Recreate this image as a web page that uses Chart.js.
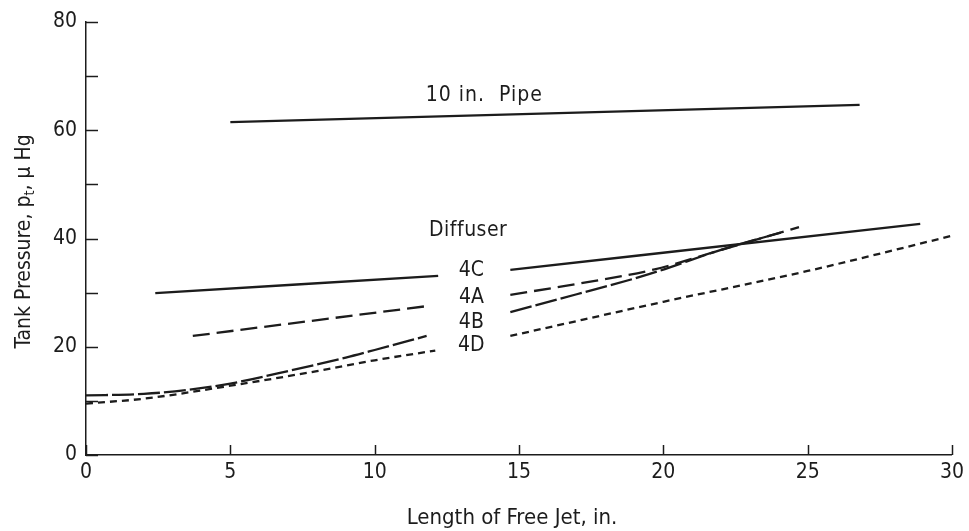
<html>
<head>
<script src="https://cdn.jsdelivr.net/npm/chart.js"></script>
<style>
  body { margin: 0; background: #fff; }
  #wrap { width: 969px; height: 531px; }
</style>
</head>
<body>
<div id="wrap"><canvas id="myChart" width="969" height="531"></canvas></div>
<script>
// values (x = length of free jet, in.; y = tank pressure)
var pipeX = [5.0, 26.8];
var pipeY = [61.5, 64.7];

var d4cX = [2.4, 12.2, 13.4, 14.7, 28.9];
var d4cY = [29.9, 33.1, null, 34.2, 42.7];

var d4aX = [3.7, 11.8, 13.2, 14.7, 17, 19.7, 22, 24.7];
var d4aY = [22.0, 27.5, null, 29.6, 31.6, 34.3, 37.9, 42.1];

var d4bX = [0, 2, 3.5, 5, 7, 9, 10, 11.8, 13.2, 14.7, 17, 19.5, 22, 24.2];
var d4bY = [11.0, 11.3, 12.0, 13.2, 15.5, 18.0, 19.4, 22.0, null, 26.4, 29.7, 33.4, 37.9, 41.3];

var d4dX = [0, 2, 5, 8, 10, 12.1, 13.4, 14.7, 20, 25, 30];
var d4dY = [9.5, 10.4, 12.8, 15.5, 17.5, 19.3, null, 22.0, 28.3, 34.0, 40.5];

var xTicks = [0, 5, 10, 15, 20, 25, 30];
var yTicks = [0, 10, 20, 30, 40, 50, 60, 70, 80];
var yLabels = [0, 20, 40, 60, 80];

var ink = '#1c1c1c';
var FONT = "'DejaVu Sans Condensed', 'Liberation Sans Narrow', sans-serif";

function pts(xs, ys) {
    return xs.map(function (x, i) { return { x: x, y: ys[i] }; });
}
function line(label, xs, ys, dash, w) {
    return {
        label: label,
        data: pts(xs, ys),
        borderColor: ink,
        borderWidth: w || 2.3,
        borderDash: dash,
        pointRadius: 0,
        fill: false,
        tension: 0.3,
        cubicInterpolationMode: 'monotone',
        spanGaps: false
    };
}

// labels placed in data units
var notes = [
    { text: '10 in.  Pipe', x: 13.8, y: 66.5, size: 21, sp: 1 },
    { text: 'Diffuser', x: 13.24, y: 41.5, size: 21, sp: 0.5 },
    { text: '4C', x: 13.35, y: 34.1, size: 21, sp: 0 },
    { text: '4A', x: 13.35, y: 29.1, size: 21, sp: 0 },
    { text: '4B', x: 13.35, y: 24.5, size: 21, sp: 0 },
    { text: '4D', x: 13.35, y: 20.2, size: 21, sp: 0 }
];

var decor = {
    id: 'decor',
    afterDraw: function (chart) {
        var c = chart.ctx, xs = chart.scales.x, ys = chart.scales.y, a = chart.chartArea;
        c.save();
        c.strokeStyle = ink;
        c.lineWidth = 1.5;
        // inward ticks
        xTicks.forEach(function (v) {
            var px = Math.round(xs.getPixelForValue(v)) + 0.5;
            c.beginPath(); c.moveTo(px, a.bottom); c.lineTo(px, a.bottom - 10); c.stroke();
        });
        yTicks.forEach(function (v) {
            var py = Math.round(ys.getPixelForValue(v)) + 0.5;
            c.beginPath(); c.moveTo(a.left, py); c.lineTo(a.left + 12, py); c.stroke();
        });
        // notes
        c.fillStyle = ink;
        c.textAlign = 'center';
        c.textBaseline = 'middle';
        notes.forEach(function (n) {
            c.font = n.size + 'px ' + FONT;
            c.letterSpacing = n.sp + 'px';
            c.fillText(n.text, xs.getPixelForValue(n.x), ys.getPixelForValue(n.y));
        });
        c.letterSpacing = '0px';
        // x title
        c.font = '22px ' + FONT;
        c.textBaseline = 'alphabetic';
        c.fillText('Length of Free Jet, in.', 512, 524);
        // y title with subscript
        c.translate(24, (a.top + a.bottom) / 2 + 3);
        c.rotate(-Math.PI / 2);
        c.textAlign = 'left';
        var p1 = 'Tank Pressure, p', p2 = 't', p3 = ', \u00b5 Hg';
        c.font = '21px ' + FONT;
        var w1 = c.measureText(p1).width, w3 = c.measureText(p3).width;
        c.font = '14px ' + FONT;
        var w2 = c.measureText(p2).width;
        var start = -(w1 + w2 + w3) / 2;
        c.font = '21px ' + FONT;
        c.fillText(p1, start, 6);
        c.font = '14px ' + FONT;
        c.fillText(p2, start + w1, 10);
        c.font = '21px ' + FONT;
        c.fillText(p3, start + w1 + w2, 6);
        c.restore();
    }
};

var ctx = document.getElementById('myChart').getContext('2d');
var myChart = new Chart(ctx, {
    type: 'line',
    data: {
        datasets: [
            line('10 in. Pipe', pipeX, pipeY, []),
            line('4C', d4cX, d4cY, []),
            line('4A', d4aX, d4aY, [17, 7]),
            line('4B', d4bX, d4bY, [22, 4]),
            line('4D', d4dX, d4dY, [7, 5])
        ]
    },
    options: {
        responsive: false,
        animation: false,
        layout: { padding: { top: 22, right: 12, left: 0, bottom: 0 } },
        plugins: { legend: { display: false }, tooltip: { enabled: false } },
        scales: {
            x: {
                type: 'linear',
                min: 0, max: 30,
                afterFit: function (s) { s.height = 76; },
                afterBuildTicks: function (s) { s.ticks = xTicks.map(function (v) { return { value: v }; }); },
                grid: { display: false, drawTicks: false },
                border: { display: true, color: ink, width: 1.5 },
                ticks: { color: ink, padding: 5, font: { family: FONT, size: 21 }, maxRotation: 0 }
            },
            y: {
                type: 'linear',
                min: 0, max: 80,
                afterFit: function (s) { s.width = 86; },
                afterBuildTicks: function (s) { s.ticks = yLabels.map(function (v) { return { value: v }; }); },
                grid: { display: false, drawTicks: false },
                border: { display: true, color: ink, width: 1.5 },
                ticks: { color: ink, padding: 9, font: { family: FONT, size: 21 } }
            }
        }
    },
    plugins: [decor]
});
</script>
</body>
</html>
